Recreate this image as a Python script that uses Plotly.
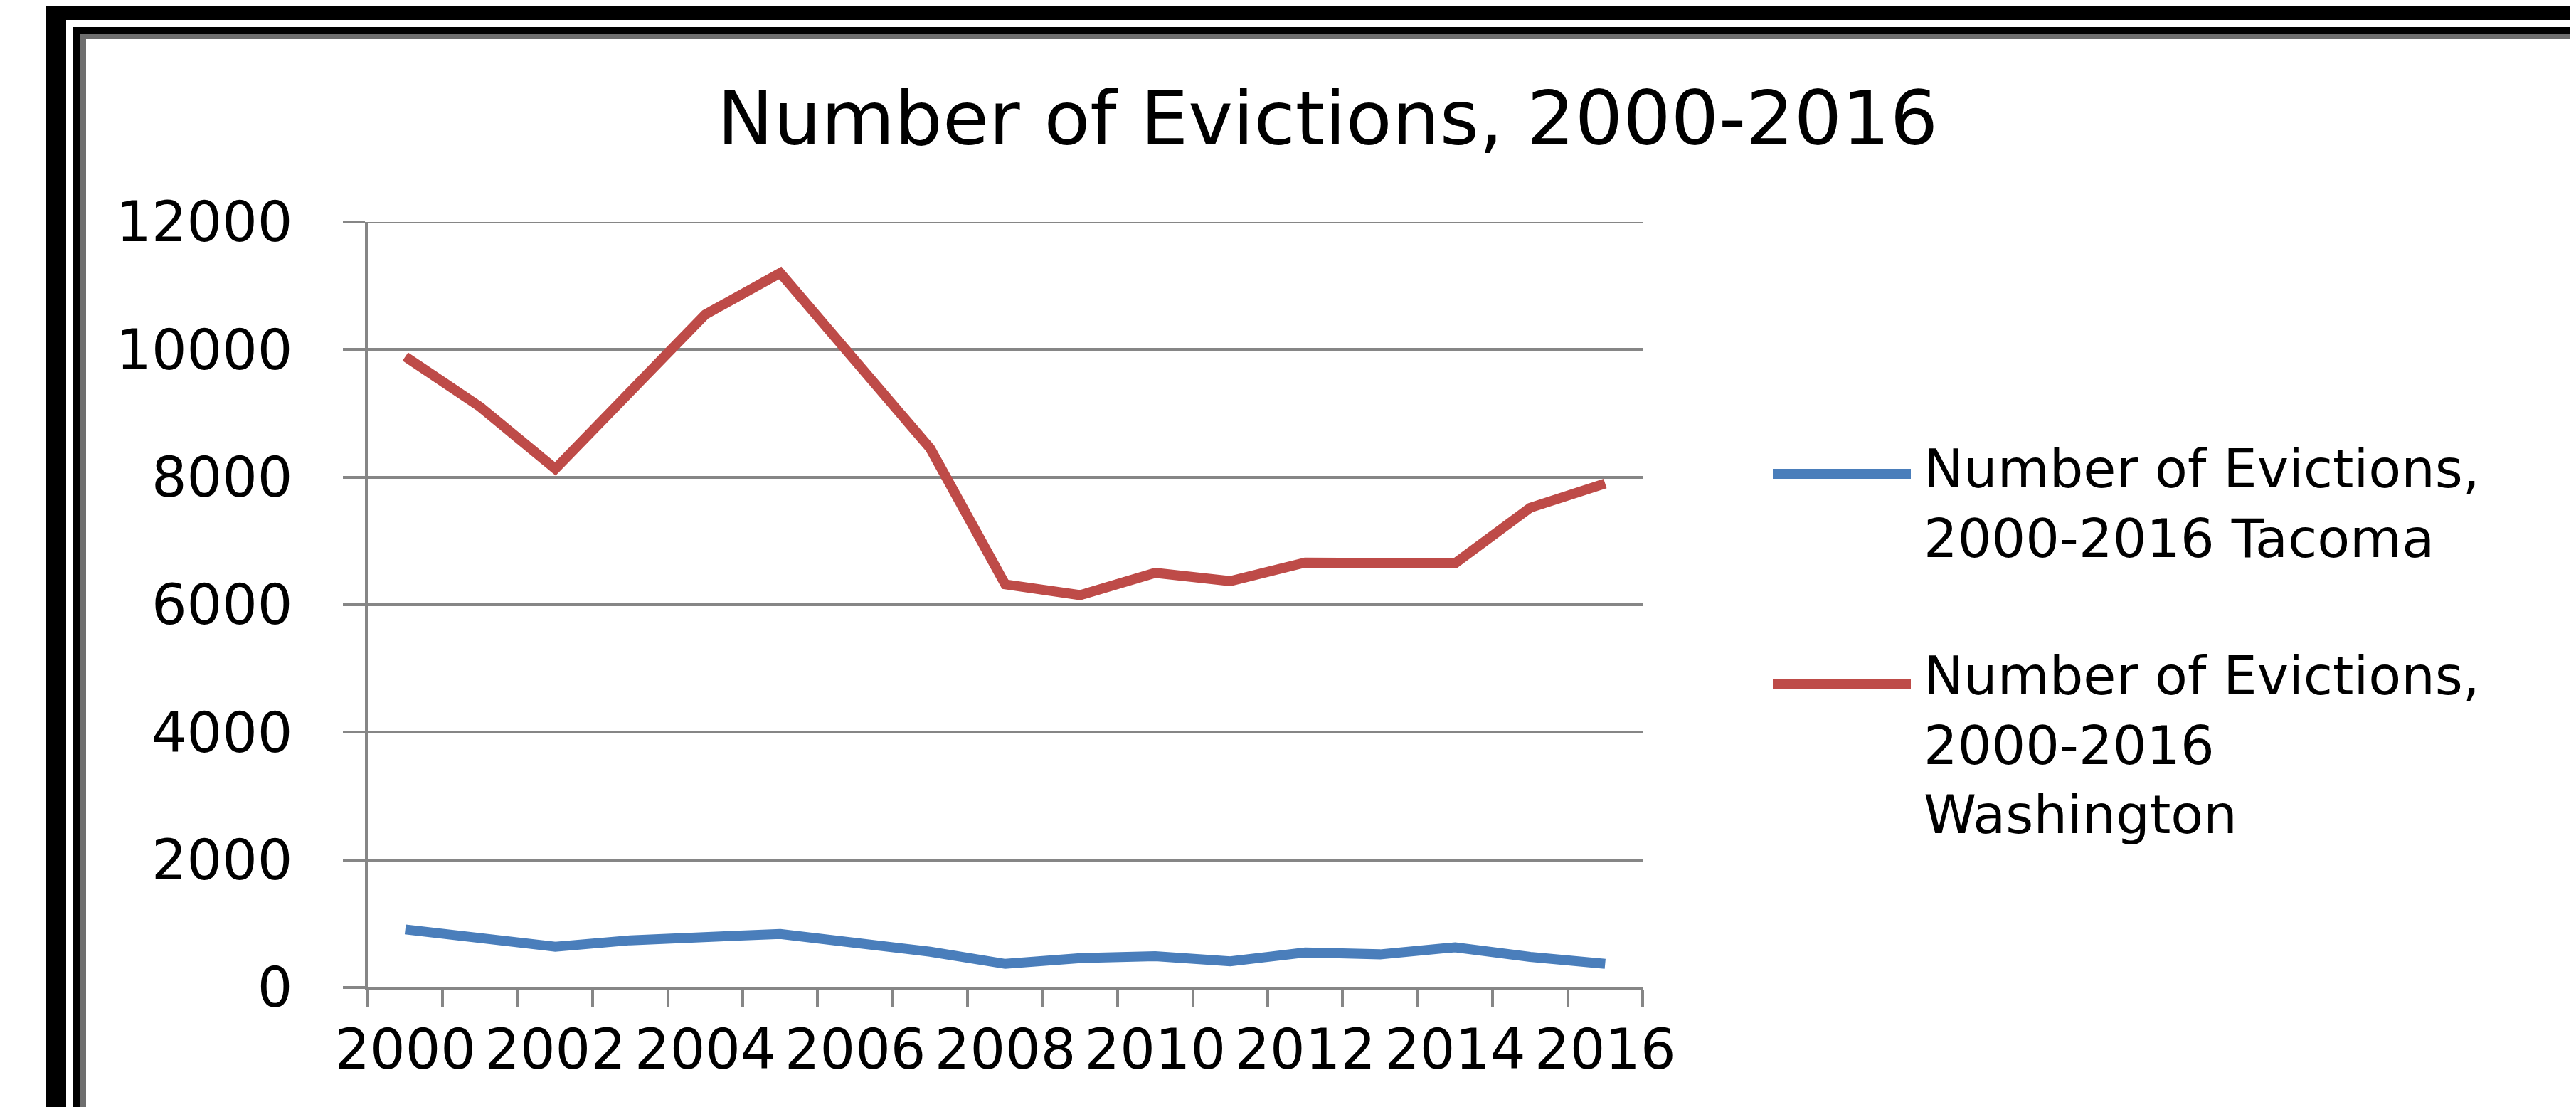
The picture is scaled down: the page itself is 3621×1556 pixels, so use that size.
import plotly.graph_objects as go

years = list(range(2000, 2017))
tacoma = [910, 770, 640, 740, 780, 840, 700, 560, 370, 460, 490, 410, 550, 520, 630, 480, 370]
washington = [9890, 9100, 8130, 9350, 10550, 11200, 9800, 8450, 6320, 6150, 6500, 6370, 6660, 6650, 6650, 7520, 7900]
year_ticks = list(range(2000, 2017, 2))
year_labels = [str(y) for y in year_ticks]
y_ticks = list(range(0, 12001, 2000))
y_labels = [str(v) for v in y_ticks]
series_names = ["Number of Evictions,<br>2000-2016 Tacoma",
                "Number of Evictions,<br>2000-2016<br>Washington"]
title_text = "Number of Evictions, 2000-2016"

BLUE = "#4A7EBB"
RED = "#BE4B48"
GRID = "#868686"
FONT = "DejaVu Sans"

W, H = 3621, 1556
PX0, PX1, PY0, PY1 = 509, 2301, 304, 1380


def fx(px):
    return (px - PX0) / (PX1 - PX0)


def fy(py):
    return (PY1 - py) / (PY1 - PY0)


fig = go.Figure()
fig.add_trace(go.Scatter(x=years, y=tacoma, mode="lines", name=series_names[0],
                         line=dict(color=BLUE, width=14), showlegend=False))
fig.add_trace(go.Scatter(x=years, y=washington, mode="lines", name=series_names[1],
                         line=dict(color=RED, width=14), showlegend=False))

shapes = []


def rect(x0, y0, x1, y1, color):
    shapes.append(dict(type="rect", xref="paper", yref="paper",
                       x0=fx(x0), x1=fx(x1), y0=fy(y1), y1=fy(y0),
                       fillcolor=color, line=dict(width=0), layer="above"))


# outer frame
rect(56, 0, 85, H, "black")
rect(56, 0, W, 20, "black")
rect(95, 30, 104, H, "black")
rect(95, 30, W, 40, "black")
rect(104, 40, 113, H, "#6e6e6e")
rect(104, 40, W, 47, "#6e6e6e")
rect(3615, 40, W, H, "#6e6e6e")
rect(104, 1553, W, H, "#6e6e6e")

# top gridline at 12000
shapes.append(dict(type="line", xref="paper", yref="y", x0=fx(478), x1=1,
                   y0=y_ticks[-1], y1=y_ticks[-1], line=dict(color=GRID, width=4)))

# legend lines
shapes.append(dict(type="line", xref="paper", yref="paper",
                   x0=fx(2484), x1=fx(2678), y0=fy(658), y1=fy(658),
                   line=dict(color=BLUE, width=14)))
shapes.append(dict(type="line", xref="paper", yref="paper",
                   x0=fx(2484), x1=fx(2678), y0=fy(954), y1=fy(954),
                   line=dict(color=RED, width=14)))

annotations = [
    dict(text=series_names[0], xref="paper", yref="paper", x=fx(2694), y=fy(700),
         xanchor="left", yanchor="middle", align="left", showarrow=False,
         font=dict(family=FONT, size=75, color="black")),
    dict(text=series_names[1], xref="paper", yref="paper", x=fx(2694), y=fy(1039),
         xanchor="left", yanchor="middle", align="left", showarrow=False,
         font=dict(family=FONT, size=75, color="black")),
]

fig.update_layout(
    width=W, height=H,
    paper_bgcolor="white", plot_bgcolor="white",
    margin=dict(l=PX0, r=W - PX1, t=PY0, b=H - PY1, autoexpand=False),
    title=dict(text=title_text, x=1858 / W, xanchor="center", xref="container",
               y=1 - 158 / H, yanchor="middle", yref="container",
               font=dict(family=FONT, size=106, color="black")),
    shapes=shapes,
    annotations=annotations,
    showlegend=False,
)

fig.update_xaxes(
    range=[1999.5, 2016.5],
    tickvals=year_ticks, ticktext=year_labels,
    ticks="outside", ticklen=16, tickcolor="rgba(0,0,0,0)",
    showgrid=False, zeroline=False,
    showline=True, linecolor=GRID, linewidth=4,
    tickfont=dict(family=FONT, size=78, color="black"),
    minor=dict(ticks="outside", tick0=1999.5, dtick=1, ticklen=24,
               tickwidth=4, tickcolor=GRID, showgrid=False),
)
fig.update_yaxes(
    range=[0, 12000], tickvals=y_ticks, ticktext=y_labels,
    ticks="outside", ticklen=31, tickwidth=4, tickcolor=GRID,
    showgrid=True, gridcolor=GRID, gridwidth=4,
    zeroline=False, showline=True, linecolor=GRID, linewidth=4,
    ticklabelstandoff=55,
    tickfont=dict(family=FONT, size=78, color="black"),
)

fig.write_html("out.html")
